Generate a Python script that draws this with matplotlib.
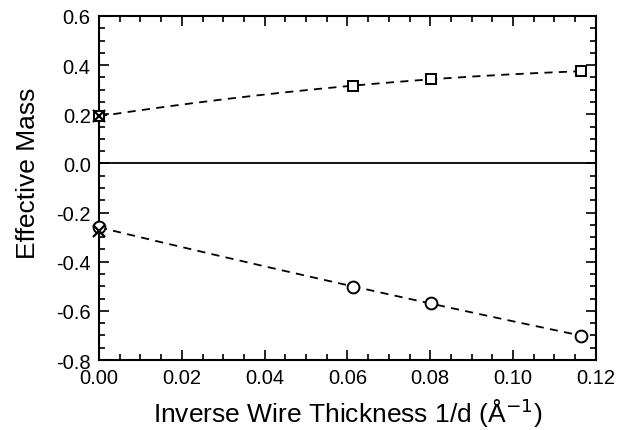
import numpy as np
import matplotlib
matplotlib.use("Agg")
import matplotlib.pyplot as plt
from matplotlib.ticker import MultipleLocator, FormatStrFormatter

plt.rcParams['font.family'] = ['Liberation Sans', 'DejaVu Sans']

# data
x_pts = [0.0, 0.0614, 0.0802, 0.1164]
m_upper = [0.192, 0.316, 0.343, 0.375]
m_lower = [-0.260, -0.502, -0.569, -0.701]
x_cross = [0.0, 0.0]
m_cross = [0.195, -0.276]

fig = plt.figure(figsize=(6.33, 4.31), dpi=100)
ax = fig.add_axes([0.1564, 0.1624, 0.785, 0.7982])

xf = np.linspace(0, max(x_pts), 200)
pu = np.polyfit(x_pts, m_upper, 2)
pl = np.polyfit(x_pts, m_lower, 2)
ax.plot(xf, np.polyval(pu, xf), ls=(0, (4.5, 3.5)), color='black', lw=1.3)
ax.plot(xf, np.polyval(pl, xf), ls=(0, (4.5, 3.5)), color='black', lw=1.3)

ax.axhline(0, color='black', lw=1.3)

ax.plot(x_pts, m_upper, 's', ms=7.5, mfc='white', mec='black', mew=1.4, clip_on=False, zorder=5)
ax.plot(x_pts, m_lower, 'o', ms=8.5, mfc='white', mec='black', mew=1.4, clip_on=False, zorder=5)
ax.plot(x_cross, m_cross, 'x', ms=8, color='black', mew=1.6, clip_on=False, zorder=6)

ax.set_xlim(0, 0.12)
ax.set_ylim(-0.8, 0.6)
ax.xaxis.set_major_locator(MultipleLocator(0.02))
ax.xaxis.set_minor_locator(MultipleLocator(0.005))
ax.yaxis.set_major_locator(MultipleLocator(0.2))
ax.yaxis.set_minor_locator(MultipleLocator(0.05))
ax.xaxis.set_major_formatter(FormatStrFormatter('%.2f'))
ax.yaxis.set_major_formatter(FormatStrFormatter('%.1f'))
ax.tick_params(which='both', direction='in', top=True, right=True, width=1.2)
ax.tick_params(which='major', length=7, labelsize=14.5, pad=6)
ax.tick_params(which='minor', length=4)
for s in ax.spines.values():
    s.set_linewidth(1.5)

ax.set_xlabel('Inverse Wire Thickness 1/d (Å$^{-1}$)', fontsize=19, labelpad=6)
ax.set_ylabel('Effective Mass', fontsize=19)
ax.yaxis.set_label_coords(-0.119, 0.545)

fig.savefig('out.png', dpi=100)
